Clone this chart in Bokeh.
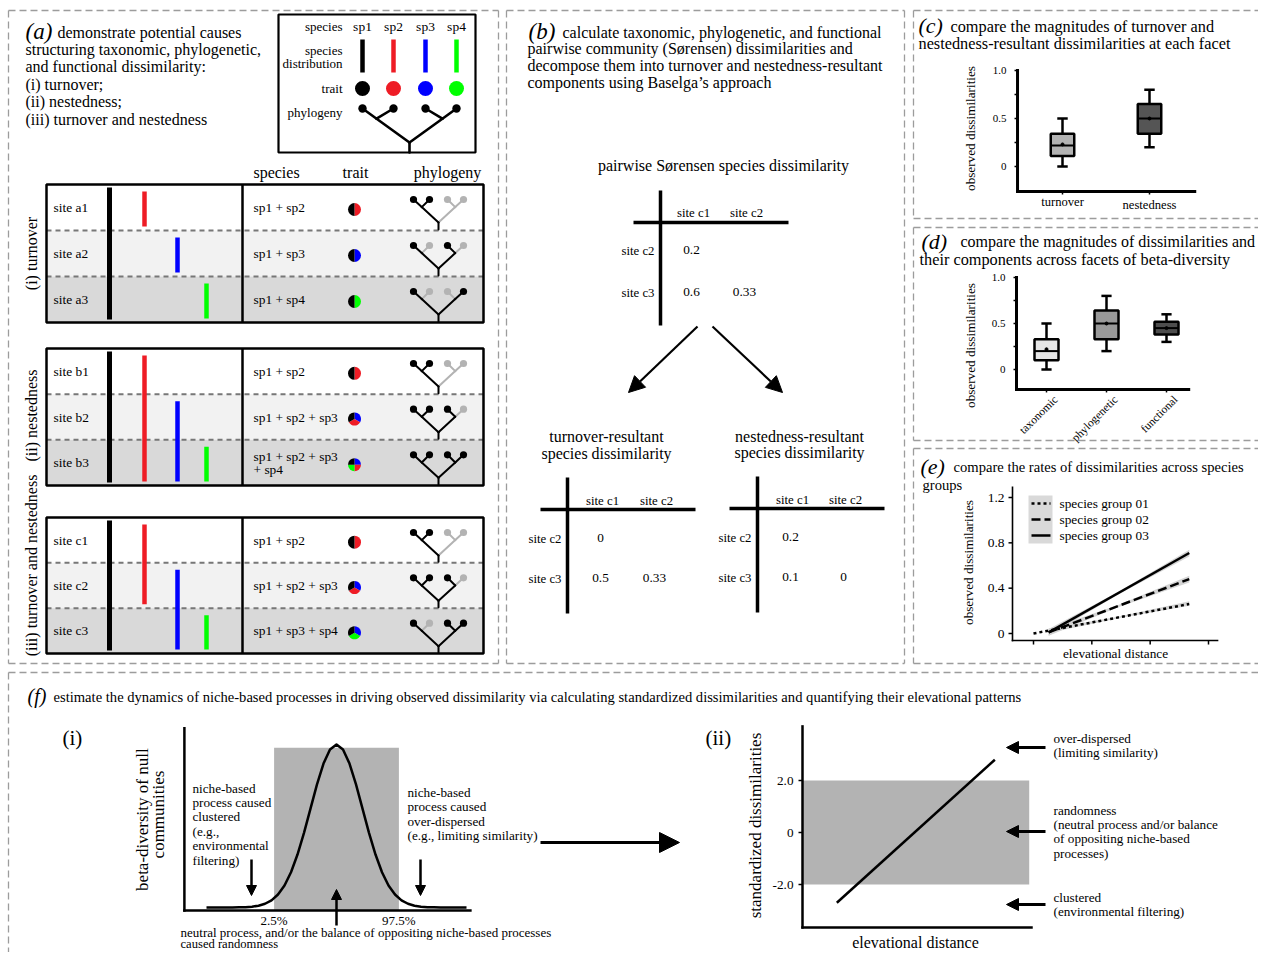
import numpy as np
from bokeh.plotting import figure
from bokeh.models import Range1d, Arrow, NormalHead
from bokeh.core.properties import value
from bokeh.embed import file_html
from bokeh.resources import INLINE

# ======================= DATA =======================
species = ["sp1", "sp2", "sp3", "sp4"]
species_colors = ["#000000", "#ee1c25", "#0000ff", "#00ff00"]
pie_order = [2, 1, 3, 0]          # clockwise from top in the trait pies

scen_labels = ["(i) turnover", "(ii) nestedness", "(iii) turnover and nestedness"]
scen_sites = [["site a1", "site a2", "site a3"],
              ["site b1", "site b2", "site b3"],
              ["site c1", "site c2", "site c3"]]
scen_presence = [[[1, 1, 0, 0], [1, 0, 1, 0], [1, 0, 0, 1]],
                 [[1, 1, 0, 0], [1, 1, 1, 0], [1, 1, 1, 1]],
                 [[1, 1, 0, 0], [1, 1, 1, 0], [1, 0, 1, 1]]]

table_cols = ["site c1", "site c2"]
table_rows = ["site c2", "site c3"]
sorensen_vals = [[0.2, None], [0.6, 0.33]]
turnover_vals = [[0, None], [0.5, 0.33]]
nested_vals = [[0.2, None], [0.1, 0]]

c_cats = ["turnover", "nestedness"]
c_min = [0.00, 0.20]
c_q1 = [0.11, 0.34]
c_med = [0.22, 0.50]
c_q3 = [0.34, 0.65]
c_max = [0.50, 0.80]
c_mean = [0.23, 0.50]
c_fill = ["#b3b3b3", "#555555"]

d_cats = ["taxonomic", "phylogenetic", "functional"]
d_min = [0.00, 0.20, 0.30]
d_q1 = [0.10, 0.33, 0.38]
d_med = [0.20, 0.50, 0.45]
d_q3 = [0.33, 0.64, 0.52]
d_max = [0.50, 0.80, 0.60]
d_mean = [0.22, 0.50, 0.45]
d_fill = ["#e6e6e6", "#999999", "#4d4d4d"]

cd_yticks = [0, 0.5, 1.0]
cd_ytick_labels = ["0", "0.5", "1.0"]
cd_yminor = [0, 0.25, 0.5, 0.75, 1.0]

e_groups = ["species group 01", "species group 02", "species group 03"]
e_dash = ["3 3", "9 4", "solid"]
e_x = [[0.0, 2.67], [0.26, 2.67], [0.26, 2.67]]
e_y = [[0.0, 0.26], [0.01, 0.48], [0.01, 0.71]]
e_band_x = [0.26, 1.45, 2.67]
e_band_lo = [[0.005, 0.135, 0.245], [-0.02, 0.232, 0.45], [-0.02, 0.345, 0.68]]
e_band_hi = [[0.045, 0.148, 0.285], [0.04, 0.252, 0.51], [0.04, 0.367, 0.74]]
e_yticks = [0, 0.4, 0.8, 1.2]
e_ytick_labels = ["0", "0.4", "0.8", "1.2"]
e_xticks = [0, 1, 2, 3]

f1_x = [-5.0, -4.75, -4.5, -4.25, -4.0, -3.75, -3.5, -3.25, -3.0, -2.75, -2.5,
        -2.25, -2.0, -1.75, -1.5, -1.25, -1.0, -0.75, -0.5, -0.25, 0.0,
        0.25, 0.5, 0.75, 1.0, 1.25, 1.5, 1.75, 2.0, 2.25, 2.5,
        2.75, 3.0, 3.25, 3.5, 3.75, 4.0, 4.25, 4.5, 4.75, 5.0]
f1_y = [0.0, 0.0, 0.0, 0.0, 0.0003, 0.0009, 0.0022, 0.0051, 0.011, 0.023, 0.044,
        0.080, 0.135, 0.216, 0.325, 0.458, 0.607, 0.755, 0.883, 0.969, 1.0,
        0.969, 0.883, 0.755, 0.607, 0.458, 0.325, 0.216, 0.135, 0.080, 0.044,
        0.023, 0.011, 0.0051, 0.0022, 0.0009, 0.0003, 0.0, 0.0, 0.0, 0.0]
f1_band = [-2.4, 2.4]
f1_band_top = 0.98
f1_pct_labels = ["2.5%", "97.5%"]

f2_x = [0.15, 0.84]
f2_y = [-2.7, 2.8]
f2_band = [-2.0, 2.0]
f2_yticks = [2.0, 0.0, -2.0]
f2_ytick_labels = ["2.0", "0", "-2.0"]

# ======================= FIGURE =======================
FONT = "Liberation Serif"
WID, HEI = 1258, 952
p = figure(width=WID, height=HEI, x_range=Range1d(0, WID), y_range=Range1d(0, HEI),
           output_backend="svg", toolbar_location=None, min_border=0,
           x_axis_type=None, y_axis_type=None)
p.grid.visible = False
p.outline_line_color = None


def Y(v):
    return HEI - v


def T(x, y, s, size=13, align="left", angle=0.0, style="normal", baseline="middle",
      xr="default", yr="default", xo=0, yo=0):
    yy = Y(y) if yr == "default" else y
    p.text(x=[x], y=[yy], text=[s], text_font=value(FONT), text_font_size=f"{size}px",
           text_align=align, text_baseline=baseline, angle=angle, text_font_style=style,
           text_color="black", x_range_name=xr, y_range_name=yr, x_offset=xo, y_offset=yo)


def S(x0, y0, x1, y1, color="black", w=1.0, dash="solid", xr="default", yr="default", cap="butt"):
    if yr == "default":
        y0, y1 = Y(y0), Y(y1)
    p.segment(x0=[x0], y0=[y0], x1=[x1], y1=[y1], line_color=color, line_width=w,
              line_dash=dash, x_range_name=xr, y_range_name=yr, line_cap=cap)


def add_range(name, v0, v1, p0, p1, axis):
    k = (v1 - v0) / (p1 - p0)
    if axis == "x":
        p.extra_x_ranges[name] = Range1d(v0 + (0 - p0) * k, v0 + (WID - p0) * k)
    else:
        p.extra_y_ranges[name] = Range1d(v0 + (HEI - p0) * k, v0 + (0 - p0) * k)


def arrow(x0, y0, x1, y1, w=2.0, size=12):
    p.add_layout(Arrow(end=NormalHead(size=size, fill_color="black", line_color="black"),
                       x_start=x0, y_start=Y(y0), x_end=x1, y_end=Y(y1),
                       line_width=w, line_color="black"))


GREY_D = "#9c9c9c"


def dashed(x0, y0, x1, y1):
    S(x0, y0, x1, y1, color=GREY_D, w=1.3, dash="7 4")


# ---------------- panel borders ----------------
for (x0, x1) in [(8, 498), (506, 904)]:
    dashed(x0, 10, x1, 10)
    dashed(x0, 663, x1, 663)
    dashed(x0, 10, x0, 663)
    dashed(x1, 10, x1, 663)
for (y0, y1) in [(10, 218), (227, 440), (448, 663)]:
    dashed(913, y0, 1270, y0)
    dashed(913, y1, 1270, y1)
    dashed(913, y0, 913, y1)
dashed(8, 672, 1270, 672)
dashed(8, 672, 8, 968)

# ---------------- panel (a) ----------------
T(25, 31, "(a)", 23, style="italic")
T(57, 32, "demonstrate potential causes", 16)
for yy, line in zip([49, 66, 84, 101, 119],
                    ["structuring taxonomic, phylogenetic,", "and functional dissimilarity:",
                     "(i) turnover;", "(ii) nestedness;", "(iii) turnover and nestedness"]):
    T(25, yy, line, 16)

GREY_T = "#b3b3b3"


def tree(xs, ytop, yroot, ystem, pres, r, lw, frac=0.3):
    rx = (xs[0] + xs[3]) / 2
    j12 = (xs[0] + frac * (rx - xs[0]), ytop + frac * (yroot - ytop))
    j34 = (xs[3] + frac * (rx - xs[3]), ytop + frac * (yroot - ytop))

    def col(on):
        return "black" if on else GREY_T
    segs = [(xs[0], ytop, j12[0], j12[1], col(pres[0])),
            (xs[1], ytop, j12[0], j12[1], col(pres[1])),
            (j12[0], j12[1], rx, yroot, col(pres[0] or pres[1])),
            (xs[3], ytop, j34[0], j34[1], col(pres[3])),
            (xs[2], ytop, j34[0], j34[1], col(pres[2])),
            (j34[0], j34[1], rx, yroot, col(pres[2] or pres[3])),
            (rx, yroot, rx, ystem, "black")]
    segs.sort(key=lambda s: s[4] == "black")
    for s in segs:
        S(s[0], s[1], s[2], s[3], color=s[4], w=lw, cap="round")
    p.circle(x=xs, y=[Y(ytop)] * 4, radius=r, fill_color=[col(v) for v in pres], line_color=None)


def pie(x, y, pres, r):
    cols = [species_colors[i] for i in pie_order if pres[i]]
    n = len(cols)
    step = 2 * np.pi / n
    for k, c in enumerate(cols):
        p.wedge(x=[x], y=[Y(y)], radius=r, start_angle=np.pi / 2 - (k + 1) * step,
                end_angle=np.pi / 2 - k * step, fill_color=c, line_color=None)


# legend box
p.rect(x=[376.5], y=[Y(83)], width=197, height=138, fill_color=None, line_color="black", line_width=2.2)
LX = [362, 393, 425, 456]
T(342, 26, "species", 13, align="right")
for x, s in zip(LX, species):
    T(x, 26, s, 13.5, align="center")
T(342, 50, "species", 13, align="right")
T(342, 63, "distribution", 13, align="right")
for x, c in zip(LX, species_colors):
    S(x, 39, x, 72, color=c, w=4.5)
T(342, 88, "trait", 13, align="right")
p.circle(x=LX, y=[Y(88)] * 4, radius=7.5, fill_color=species_colors, line_color=None)
T(342, 112, "phylogeny", 13, align="right")
tree(LX, 108, 142, 152, [1, 1, 1, 1], 4.2, 2.6)

# column headers
T(276, 172, "species", 16, align="center")
T(355, 172, "trait", 16, align="center")
T(447, 172, "phylogeny", 16, align="center")

blocks = [(184, 322), (348, 485), (517, 653)]
row_fill = ["#ffffff", "#f2f2f2", "#d9d9d9"]
bar_x = [109, 144, 177, 206]
tree_x = [413, 429, 447, 463]
label_y = [253, 415, 565]
for bi, (top, bot) in enumerate(blocks):
    rh = (bot - top) / 3
    pres = scen_presence[bi]
    for r in range(3):
        y0 = top + rh * r
        p.quad(left=46, right=483, top=Y(y0), bottom=Y(y0 + rh), fill_color=row_fill[r], line_color=None)
    for r in (1, 2):
        S(46, top + rh * r, 483, top + rh * r, color="#777777", w=2, dash="5 4")
    # species distribution bars
    for s in range(4):
        rows = [r for r in range(3) if pres[r][s]]
        if not rows:
            continue
        y0 = top + rh * rows[0] + (3 if s == 0 else 7)
        y1 = top + rh * (rows[-1] + 1) - (3 if s == 0 else 4)
        S(bar_x[s], y0, bar_x[s], y1, color=species_colors[s], w=5 if s == 0 else 4.5)
    for r in range(3):
        yc = top + rh * (r + 0.5)
        T(53, yc, scen_sites[bi][r], 13.4)
        names = [species[s] for s in range(4) if pres[r][s]]
        if len(names) > 3:
            T(253, yc - 6, " + ".join(names[:3]), 13.4)
            T(253, yc + 7, "+ " + " + ".join(names[3:]), 13.4)
        else:
            T(253, yc, " + ".join(names), 13.4)
        pie(354, yc + 2, pres[r], 6.5)
        ytop = top + rh * r
        tree(tree_x, ytop + 15, ytop + 38, ytop + rh - 1, pres[r], 3.6, 2.0, frac=0.33)
    p.rect(x=[264.5], y=[Y((top + bot) / 2)], width=437, height=bot - top, fill_color=None,
           line_color="black", line_width=2.5)
    S(242, top, 242, bot, w=2.5)
    T(31, label_y[bi], scen_labels[bi], 16, align="center", angle=np.pi / 2)

# ---------------- panel (b) ----------------
T(528, 31, "(b)", 23, style="italic")
T(562, 32, "calculate taxonomic, phylogenetic, and functional", 16)
for yy, line in zip([48, 65, 82],
                    ["pairwise community (Sørensen) dissimilarities and",
                     "decompose them into turnover and nestedness-resultant",
                     "components using Baselga\u2019s approach"]):
    T(527, yy, line, 16)


def fmt(v):
    return "" if v is None else f"{v:g}"


def table(vx, vtop, vbot, hy, hx0, hx1, colx, heady, rowy, vals):
    S(vx, vtop, vx, vbot, w=3.5)
    S(hx0, hy, hx1, hy, w=3.5)
    for cx, c in zip(colx, table_cols):
        T(cx, heady, c, 12.8, align="center")
    for ry, rl, rv in zip(rowy, table_rows, vals):
        T(vx - 6, ry, rl, 12.8, align="right")
        for cx, v in zip(colx, rv):
            T(cx - 2, ry - 1, fmt(v), 13.3, align="center")


T(723, 165, "pairwise Sørensen species dissimilarity", 16, align="center")
table(660, 190, 325, 222, 633, 788, [693, 746], 212, [250, 292], sorensen_vals)
arrow(697, 326, 628, 392, w=2.2, size=16)
arrow(712, 326, 782, 392, w=2.2, size=16)
T(606, 436, "turnover-resultant", 16, align="center")
T(606, 453, "species dissimilarity", 16, align="center")
T(799, 436, "nestedness-resultant", 16, align="center")
T(799, 452, "species dissimilarity", 16, align="center")
table(567, 477, 613, 509, 540, 695, [602, 656], 500, [538, 578], turnover_vals)
table(757, 476, 612, 508, 729, 884, [792, 845], 499, [537, 577], nested_vals)


# ---------------- boxplot helper ----------------
def boxplot(xs, mn, q1, md, q3, mx, mean, fills, bw, cw, xr, yr, lw=2.5):
    kw = dict(x_range_name=xr, y_range_name=yr)
    p.segment(x0=xs, y0=q3, x1=xs, y1=mx, line_color="black", line_width=lw, **kw)
    p.segment(x0=xs, y0=mn, x1=xs, y1=q1, line_color="black", line_width=lw, **kw)
    p.segment(x0=[x - cw / 2 for x in xs], y0=mx, x1=[x + cw / 2 for x in xs], y1=mx,
              line_color="black", line_width=lw, **kw)
    p.segment(x0=[x - cw / 2 for x in xs], y0=mn, x1=[x + cw / 2 for x in xs], y1=mn,
              line_color="black", line_width=lw, **kw)
    p.vbar(x=xs, width=bw, bottom=q1, top=q3, fill_color=fills, line_color="black", line_width=lw, **kw)
    p.segment(x0=[x - bw / 2 for x in xs], y0=md, x1=[x + bw / 2 for x in xs], y1=md,
              line_color="black", line_width=2, **kw)
    p.scatter(x=xs, y=mean, size=3, color="black", **kw)


def axes_box(xlim, ylim, xr, yr, lw):
    S(xlim[0], ylim[0], xlim[0], ylim[1], w=lw, xr=xr, yr=yr, cap="square")
    S(xlim[0], ylim[0], xlim[1], ylim[0], w=lw, xr=xr, yr=yr, cap="square")


# ---------------- panel (c) ----------------
T(918, 25, "(c)", 22, style="italic")
T(950, 26, "compare the magnitudes of turnover and", 16.3)
T(918, 43, "nestedness-resultant dissimilarities at each facet", 16.3)
add_range("cx", 1, 2, 1062, 1149, "x")
add_range("cy", 0, 1, 166, 70, "y")
c_xlim = (0.483, 2.52)
c_ylim = (-0.26, 1.0)
c_pos = list(range(1, len(c_cats) + 1))
axes_box(c_xlim, c_ylim, "cx", "cy", 3)
p.ray(x=[c_xlim[0]] * len(cd_yminor), y=cd_yminor, length=3, angle=np.pi, length_units="screen",
      line_color="black", line_width=1.5, x_range_name="cx", y_range_name="cy")
p.ray(x=c_pos, y=[c_ylim[0]] * len(c_pos), length=3, angle=-np.pi / 2, length_units="screen",
      line_color="black", line_width=1.5, x_range_name="cx", y_range_name="cy")
for v, lab in zip(cd_yticks, cd_ytick_labels):
    T(c_xlim[0], v, lab, 11, align="right", xr="cx", yr="cy", xo=-11)
boxplot(c_pos, c_min, c_q1, c_med, c_q3, c_max, c_mean, c_fill, 0.27, 0.12, "cx", "cy")
for x, lab, yo in zip(c_pos, c_cats, [11, 14]):
    T(x, c_ylim[0], lab, 12.6, align="center", xr="cx", yr="cy", yo=yo)
T(970, 128, "observed dissimilarities", 13.2, align="center", angle=np.pi / 2)

# ---------------- panel (d) ----------------
T(921, 241, "(d)", 22, style="italic")
T(960, 241, "compare the magnitudes of dissimilarities and", 16)
T(919, 259, "their components across facets of beta-diversity", 16.3)
add_range("dx", 1, 3, 1046, 1166, "x")
add_range("dy", 0, 1, 369, 277, "y")
d_xlim = (0.5, 3.37)
d_ylim = (-0.217, 1.0)
d_pos = list(range(1, len(d_cats) + 1))
axes_box(d_xlim, d_ylim, "dx", "dy", 3)
p.ray(x=[d_xlim[0]] * len(cd_yminor), y=cd_yminor, length=3, angle=np.pi, length_units="screen",
      line_color="black", line_width=1.5, x_range_name="dx", y_range_name="dy")
p.ray(x=d_pos, y=[d_ylim[0]] * len(d_pos), length=3, angle=-np.pi / 2, length_units="screen",
      line_color="black", line_width=1.5, x_range_name="dx", y_range_name="dy")
for v, lab in zip(cd_yticks, cd_ytick_labels):
    T(d_xlim[0], v, lab, 11, align="right", xr="dx", yr="dy", xo=-11)
boxplot(d_pos, d_min, d_q1, d_med, d_q3, d_max, d_mean, d_fill, 0.40, 0.17, "dx", "dy")
for x, lab in zip(d_pos, d_cats):
    T(x, d_ylim[0], lab, 11.5, align="right", angle=np.pi / 4, xr="dx", yr="dy", xo=9, yo=8)
T(970, 345, "observed dissimilarities", 13.2, align="center", angle=np.pi / 2)

# ---------------- panel (e) ----------------
T(920, 466, "(e)", 22, style="italic")
T(953, 466, "compare the rates of dissimilarities across species", 14.6)
T(922, 484, "groups", 14.6)
add_range("ex", 0, 3, 1033, 1208, "x")
add_range("ey", 0, 1.2, 633, 497, "y")
e_xlim = (-0.36, 3.155)
e_ylim = (-0.062, 1.29)
axes_box(e_xlim, e_ylim, "ex", "ey", 1.6)
p.ray(x=[e_xlim[0]] * len(e_yticks), y=e_yticks, length=4, angle=np.pi, length_units="screen",
      line_color="black", line_width=1.5, x_range_name="ex", y_range_name="ey")
p.ray(x=e_xticks, y=[e_ylim[0]] * len(e_xticks), length=4, angle=-np.pi / 2, length_units="screen",
      line_color="black", line_width=1.5, x_range_name="ex", y_range_name="ey")
for v, lab in zip(e_yticks, e_ytick_labels):
    T(e_xlim[0], v, lab, 13.5, align="right", xr="ex", yr="ey", xo=-8)
for lo, hi in zip(e_band_lo, e_band_hi):
    p.varea(x=e_band_x, y1=lo, y2=hi, fill_color="#cfcfcf", fill_alpha=0.9,
            x_range_name="ex", y_range_name="ey")
for xs, ys, dsh in zip(e_x, e_y, e_dash):
    p.line(x=xs, y=ys, line_color="black", line_width=2.5, line_dash=dsh,
           x_range_name="ex", y_range_name="ey")
p.quad(left=1028, right=1052, top=Y(495), bottom=Y(543), fill_color="#d9d9d9", line_color=None)
for yy, lab, dsh in zip([503, 519, 535], e_groups, e_dash):
    S(1031, yy, 1050, yy, w=2.5, dash=dsh)
    T(1059, yy, lab, 13.3)
T(1115, 653, "elevational distance", 13.3, align="center")
T(968, 562, "observed dissimilarities", 13.2, align="center", angle=np.pi / 2)

# ---------------- panel (f) ----------------
T(27, 695, "(f)", 20, style="italic")
T(53, 696, "estimate the dynamics of niche-based processes in driving observed dissimilarity via "
           "calculating standardized dissimilarities and quantifying their elevational patterns", 14.6)
T(62, 737, "(i)", 21)
T(705, 737, "(ii)", 21)

# f(i)
add_range("f1x", 0, 1, 336, 362, "x")
add_range("f1y", 0, 1, 907, 744, "y")
f1_xlim = (-5.85, 5.15)
f1_ylim = (-0.018, 1.10)
p.quad(left=f1_band[0], right=f1_band[1], bottom=f1_ylim[0], top=f1_band_top, fill_color="#b3b3b3",
       line_color=None, x_range_name="f1x", y_range_name="f1y")
p.line(x=f1_x, y=f1_y, line_color="black", line_width=2.5, line_join="round",
       x_range_name="f1x", y_range_name="f1y")
axes_box(f1_xlim, f1_ylim, "f1x", "f1y", 2.5)
for x, lab in zip(f1_band, f1_pct_labels):
    T(x, f1_ylim[0], lab, 13, align="center", xr="f1x", yr="f1y", yo=10)
T(142, 817, "beta-diversity  of null", 17, align="center", angle=np.pi / 2)
T(158, 814, "communities", 17, align="center", angle=np.pi / 2)
for yy, line in zip([788, 802, 816, 831, 845, 860],
                    ["niche-based", "process caused", "clustered", "(e.g.,", "environmental", "filtering)"]):
    T(192, yy, line, 13.2)
for yy, line in zip([792, 806, 821, 835],
                    ["niche-based", "process caused", "over-dispersed", "(e.g., limiting similarity)"]):
    T(407, yy, line, 13.2)
T(180, 932, "neutral process, and/or the balance of oppositing niche-based processes", 13)
T(180, 943, "caused randomness", 12.6)
arrow(251, 859, 251, 895, w=2.5, size=10)
arrow(420, 859, 420, 895, w=2.5, size=10)
arrow(336, 925, 336, 889, w=2.5, size=10)
arrow(540, 842, 679, 842, w=3, size=20)

# f(ii)
add_range("f2x", 0, 1, 802, 1031, "x")
add_range("f2y", 0, 2, 832, 780, "y")
f2_xlim = (0.0, 1.0)
f2_ylim = (-3.65, 4.08)
p.quad(left=0, right=0.99, bottom=f2_band[0], top=f2_band[1], fill_color="#b3b3b3", line_color=None,
       x_range_name="f2x", y_range_name="f2y")
p.line(x=f2_x, y=f2_y, line_color="black", line_width=2.5, x_range_name="f2x", y_range_name="f2y")
axes_box(f2_xlim, f2_ylim, "f2x", "f2y", 2.5)
p.ray(x=[0] * len(f2_yticks), y=f2_yticks, length=4, angle=np.pi, length_units="screen",
      line_color="black", line_width=1.5, x_range_name="f2x", y_range_name="f2y")
for v, lab in zip(f2_yticks, f2_ytick_labels):
    T(0, v, lab, 13.2, align="right", xr="f2x", yr="f2y", xo=-9)
T(755, 825, "standardized dissimilarities", 17, align="center", angle=np.pi / 2)
T(915, 942, "elevational distance", 16, align="center")
for yy in [747, 831, 904]:
    arrow(1045, yy, 1006, yy, w=3, size=12)
for yy, line in zip([738, 752], ["over-dispersed", "(limiting similarity)"]):
    T(1053, yy, line, 13.2)
for yy, line in zip([810, 824, 838, 853],
                    ["randomness", "(neutral process and/or balance", "of oppositing niche-based", "processes)"]):
    T(1053, yy, line, 13.2)
for yy, line in zip([897, 911], ["clustered", "(environmental filtering)"]):
    T(1053, yy, line, 13.2)

open("out.html", "w").write(file_html(p, INLINE))
